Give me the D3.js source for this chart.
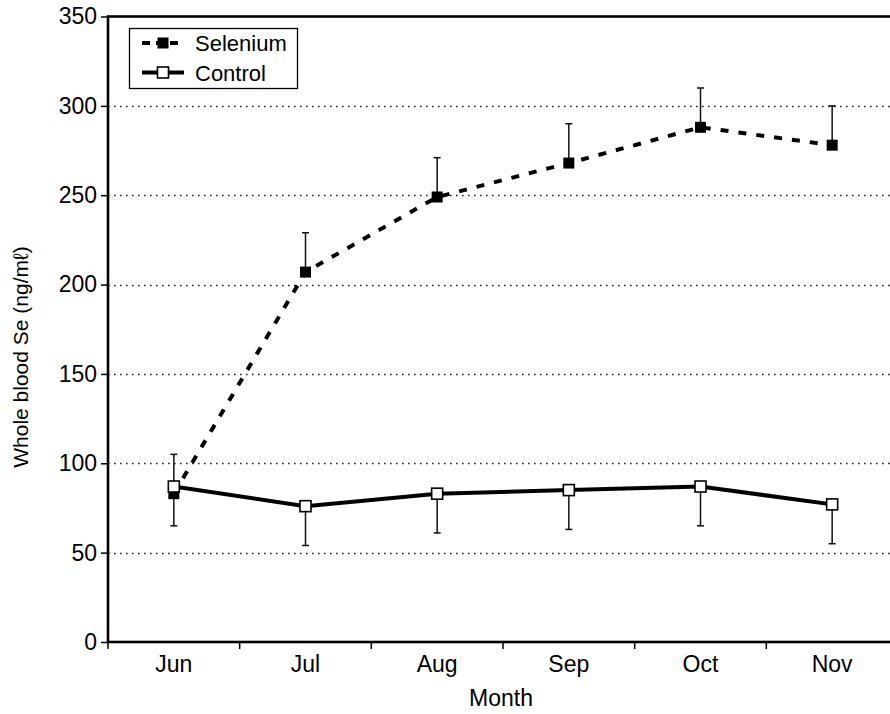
<!DOCTYPE html>
<html>
<head>
<meta charset="utf-8">
<script src="https://cdn.jsdelivr.net/npm/d3@7/dist/d3.min.js"></script>
<style>
  html, body { margin: 0; padding: 0; background: #fff; }
  svg text { font-family: "Liberation Sans", Arial, Helvetica, sans-serif; fill: #000; }
</style>
</head>
<body>
<div id="chart"></div>
<script>
'use strict';

// ── Data ────────────────────────────────────────────────────
const months        = ['Jun', 'Jul', 'Aug', 'Sep', 'Oct', 'Nov'];
const seleniumMean  = [83, 207, 249, 268, 288, 278];
const seleniumError = [22, 22, 22, 22, 22, 22];   // drawn upward
const controlMean   = [87, 76, 83, 85, 87, 77];
const controlError  = [22, 22, 22, 22, 22, 22];   // drawn downward
const yTicks        = [0, 50, 100, 150, 200, 250, 300, 350];

// ── Layout ─────────────────────────────────────────────────
const totalW = 890, totalH = 714;
const plot = { left: 108, right: 898, top: 16.5, bottom: 642 };

const svg = d3.select('#chart').append('svg')
    .attr('width', totalW)
    .attr('height', totalH);

// ── Scales ─────────────────────────────────────────────────
const x = d3.scaleBand()
    .domain(months)
    .range([plot.left, plot.right])
    .padding(0);

const y = d3.scaleLinear()
    .domain([0, 350])
    .range([plot.bottom, plot.top]);

const cx = m => x(m) + x.bandwidth() / 2;

// ── Dotted gridlines (not at 0 or 350) ─────────────────────
svg.append('g')
    .selectAll('line')
    .data(yTicks.filter(t => t > 0 && t < 350))
    .join('line')
    .attr('x1', plot.left).attr('x2', plot.right)
    .attr('y1', d => Math.round(y(d)) + 0.5)
    .attr('y2', d => Math.round(y(d)) + 0.5)
    .attr('stroke', '#222')
    .attr('stroke-width', 1.3)
    .attr('stroke-dasharray', '1.6,4.4');

// ── Y axis ─────────────────────────────────────────────────
const yAxis = svg.append('g')
    .attr('transform', `translate(${plot.left},0)`)
    .call(d3.axisLeft(y).tickValues(yTicks).tickSize(7).tickPadding(4));
yAxis.select('.domain').remove();
yAxis.selectAll('.tick line').attr('stroke', '#000').attr('stroke-width', 1.5);
yAxis.selectAll('.tick text')
    .attr('font-size', 23)
    .attr('font-family', '"Liberation Sans", Arial, sans-serif');

// ── X axis: labels centred in bands, ticks at band edges ──
const xAxis = svg.append('g')
    .attr('transform', `translate(0,${plot.bottom})`)
    .call(d3.axisBottom(x).tickSize(0).tickPadding(14));
xAxis.select('.domain').remove();
xAxis.selectAll('.tick text')
    .attr('font-size', 23)
    .attr('font-family', '"Liberation Sans", Arial, sans-serif');

svg.append('g')
    .selectAll('line')
    .data(months.map(m => x(m)).concat([plot.right]))
    .join('line')
    .attr('x1', d => d).attr('x2', d => d)
    .attr('y1', plot.bottom).attr('y2', plot.bottom + 7)
    .attr('stroke', '#000')
    .attr('stroke-width', 1.5);

// ── Frame (top, left, bottom; right side falls off the page) ─
svg.append('rect')
    .attr('x', plot.left)
    .attr('y', plot.top)
    .attr('width', plot.right - plot.left)
    .attr('height', plot.bottom - plot.top)
    .attr('fill', 'none')
    .attr('stroke', '#000')
    .attr('stroke-width', 2.6);

// ── Axis titles ────────────────────────────────────────────
svg.append('text')
    .attr('x', 501)
    .attr('y', 706)
    .attr('text-anchor', 'middle')
    .attr('font-size', 23)
    .text('Month');

svg.append('text')
    .attr('transform', 'translate(28,357) rotate(-90)')
    .attr('text-anchor', 'middle')
    .attr('font-size', 21)
    .text('Whole blood Se (ng/mℓ)');

// ── Series helpers ─────────────────────────────────────────
const line = d3.line()
    .x(d => cx(d.month))
    .y(d => y(d.value));

const seleniumData = months.map((m, i) => ({ month: m, value: seleniumMean[i], err: seleniumError[i] }));
const controlData  = months.map((m, i) => ({ month: m, value: controlMean[i],  err: controlError[i] }));

function errorBars(data, dir) {
    const g = svg.append('g').attr('stroke', '#111').attr('stroke-width', 1.5);
    g.selectAll('line.stem')
        .data(data)
        .join('line')
        .attr('class', 'stem')
        .attr('x1', d => cx(d.month)).attr('x2', d => cx(d.month))
        .attr('y1', d => y(d.value))
        .attr('y2', d => y(d.value + dir * d.err));
    g.selectAll('line.cap')
        .data(data)
        .join('line')
        .attr('class', 'cap')
        .attr('x1', d => cx(d.month) - 3.5).attr('x2', d => cx(d.month) + 3.5)
        .attr('y1', d => y(d.value + dir * d.err))
        .attr('y2', d => y(d.value + dir * d.err));
}

errorBars(seleniumData, +1);
errorBars(controlData, -1);

// Selenium: dashed line, filled squares
svg.append('path')
    .datum(seleniumData)
    .attr('d', line)
    .attr('fill', 'none')
    .attr('stroke', '#000')
    .attr('stroke-width', 4)
    .attr('stroke-dasharray', '8,10');

const sq = 11;
svg.append('g')
    .selectAll('rect')
    .data(seleniumData)
    .join('rect')
    .attr('x', d => cx(d.month) - sq / 2)
    .attr('y', d => y(d.value) - sq / 2)
    .attr('width', sq).attr('height', sq)
    .attr('fill', '#000');

// Control: solid line, open squares
svg.append('path')
    .datum(controlData)
    .attr('d', line)
    .attr('fill', 'none')
    .attr('stroke', '#000')
    .attr('stroke-width', 4);

svg.append('g')
    .selectAll('rect')
    .data(controlData)
    .join('rect')
    .attr('x', d => cx(d.month) - sq / 2)
    .attr('y', d => y(d.value) - sq / 2)
    .attr('width', sq).attr('height', sq)
    .attr('fill', '#fff')
    .attr('stroke', '#000')
    .attr('stroke-width', 1.6);

// ── Legend ─────────────────────────────────────────────────
const legend = svg.append('g');
legend.append('rect')
    .attr('x', 129.5).attr('y', 28.5)
    .attr('width', 168).attr('height', 60)
    .attr('fill', '#fff')
    .attr('stroke', '#000')
    .attr('stroke-width', 1.3);

const legendItems = [
    { name: 'Selenium', dash: '8,6', fill: '#000', yy: 43 },
    { name: 'Control',  dash: null,  fill: '#fff', yy: 72.5 }
];

legendItems.forEach(it => {
    legend.append('line')
        .attr('x1', 142).attr('x2', 184)
        .attr('y1', it.yy).attr('y2', it.yy)
        .attr('stroke', '#000')
        .attr('stroke-width', 4)
        .attr('stroke-dasharray', it.dash);
    legend.append('rect')
        .attr('x', 163 - sq / 2).attr('y', it.yy - sq / 2)
        .attr('width', sq).attr('height', sq)
        .attr('fill', it.fill)
        .attr('stroke', '#000')
        .attr('stroke-width', it.fill === '#fff' ? 1.6 : 0);
    legend.append('text')
        .attr('x', 195)
        .attr('y', it.yy + 8)
        .attr('font-size', 22)
        .text(it.name);
});
</script>
</body>
</html>
